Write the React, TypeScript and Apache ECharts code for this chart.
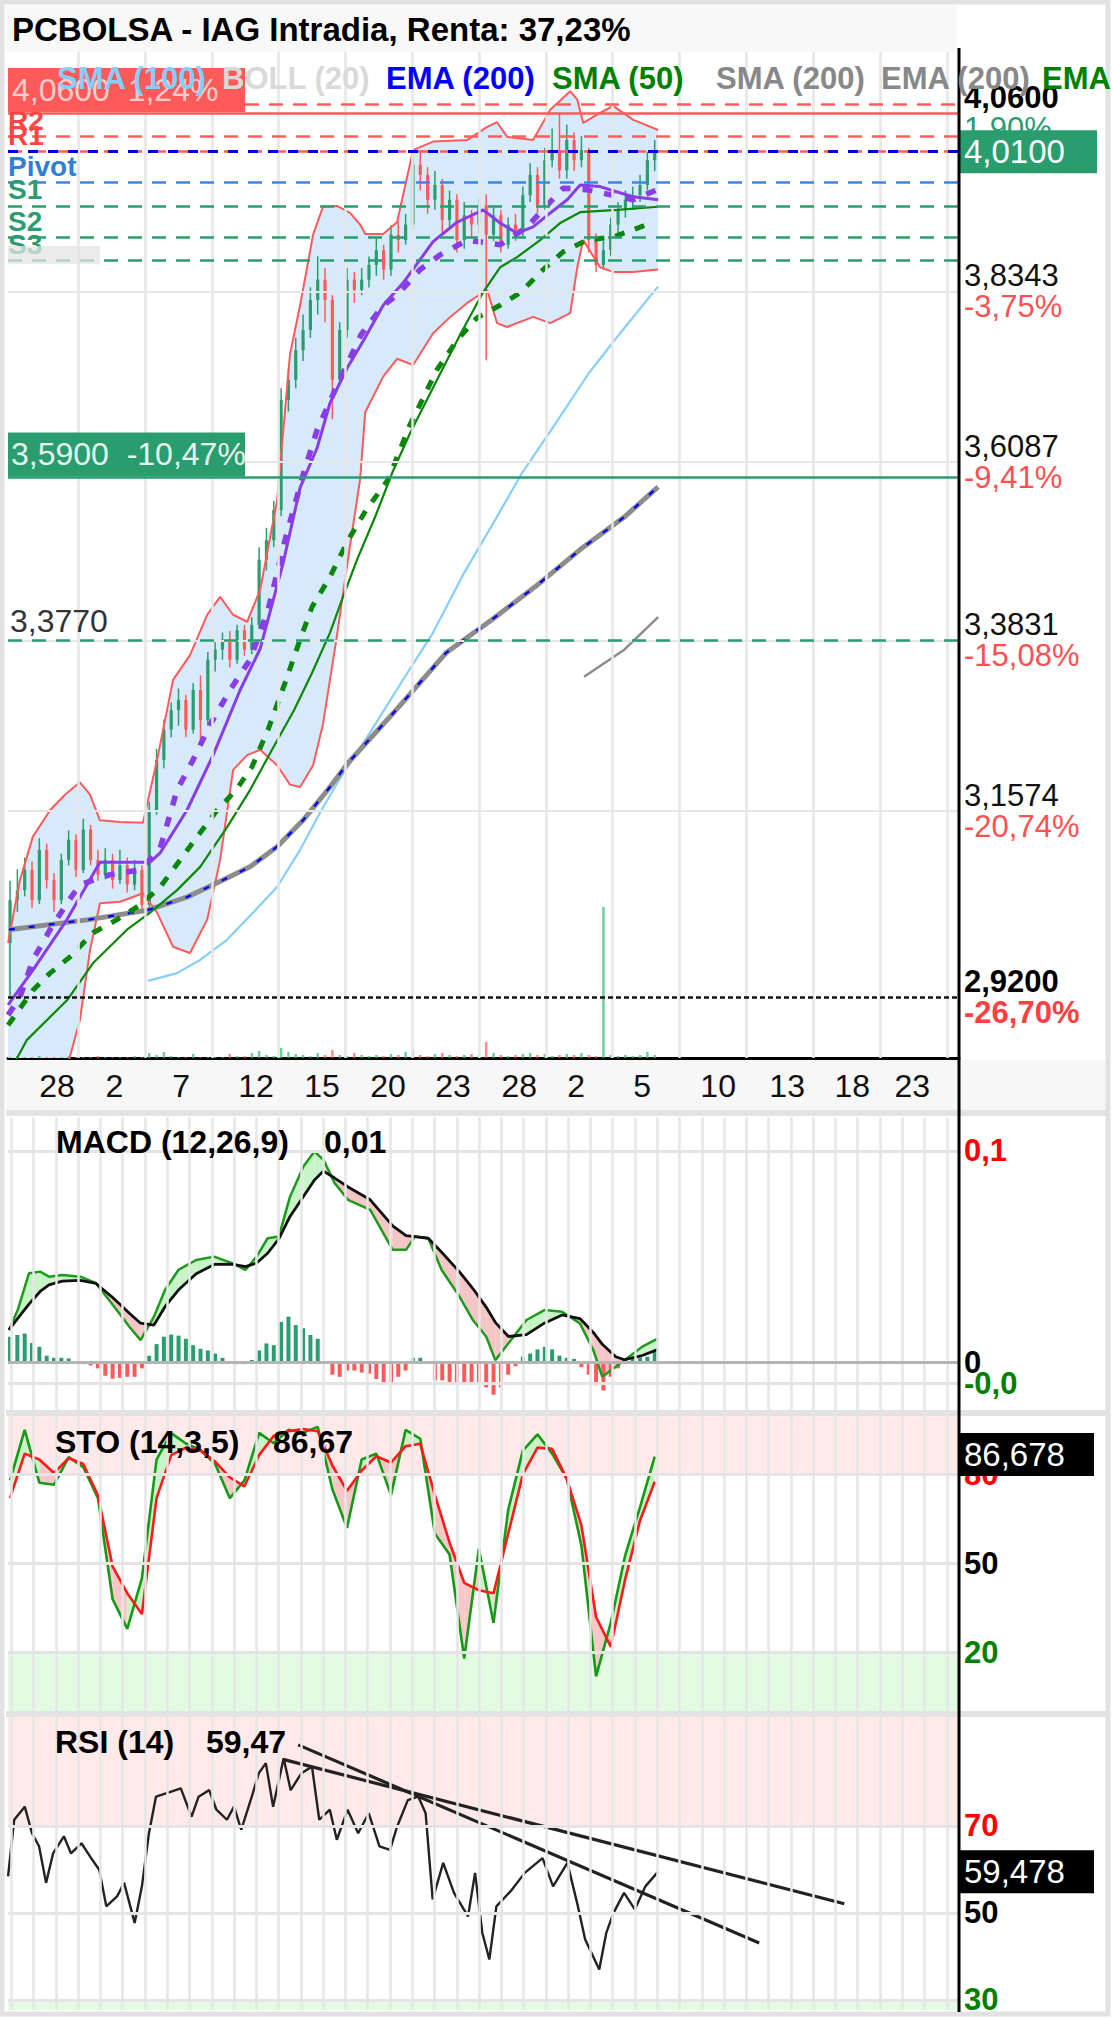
import React, { useEffect, useRef } from 'react';
import * as echarts from 'echarts';

const FONT = "'Liberation Sans', Arial, Helvetica, sans-serif";
const GREEN = '#2a9d6f';
const RED = '#ff5a5a';

// ---------- axes ----------
const X_MIN = -0.273;
const X_MAX = 43.0;
const BAR_X0 = -0.18;
const BAR_STEP = 1 / 3;
const OSC_X0 = -0.18;
const OSC_STEP = 2 / 3;
const GRID_X0 = -0.127;
const GRID_DX = 1.0137;
const GRID_COUNT = 43;

const XLABEL_POS = [1.96, 4.57, 7.6, 11.01, 14.02, 17.02, 19.98, 22.99, 25.58, 28.58, 32.04, 35.18, 38.14, 40.87];
const XLABEL_TXT = ['28', '2', '7', '12', '15', '20', '23', '28', '2', '5', '10', '13', '18', '23'];

// ---------- price ----------
const CANDLES = [
  [2.990, 3.045, 2.920, 3.070], [3.045, 3.058, 3.030, 3.085], [3.058, 3.084, 3.050, 3.100], [3.084, 3.045, 3.035, 3.095],
  [3.045, 3.110, 3.040, 3.125], [3.110, 3.071, 3.060, 3.118], [3.071, 3.045, 3.030, 3.080], [3.045, 3.097, 3.040, 3.105],
  [3.097, 3.123, 3.090, 3.135], [3.123, 3.084, 3.075, 3.130], [3.084, 3.136, 3.080, 3.150], [3.136, 3.097, 3.090, 3.142],
  [3.097, 3.078, 3.070, 3.110], [3.078, 3.097, 3.072, 3.112], [3.097, 3.071, 3.060, 3.105], [3.071, 3.090, 3.066, 3.110],
  [3.090, 3.065, 3.055, 3.100], [3.065, 3.084, 3.058, 3.097], [3.084, 3.039, 3.034, 3.090], [3.039, 3.161, 3.036, 3.172],
  [3.161, 3.226, 3.155, 3.240], [3.226, 3.265, 3.215, 3.278], [3.265, 3.290, 3.255, 3.300], [3.290, 3.303, 3.270, 3.318],
  [3.303, 3.265, 3.255, 3.310], [3.265, 3.316, 3.260, 3.325], [3.316, 3.277, 3.250, 3.335], [3.277, 3.355, 3.270, 3.365],
  [3.355, 3.368, 3.340, 3.380], [3.368, 3.381, 3.355, 3.390], [3.381, 3.355, 3.345, 3.392], [3.355, 3.393, 3.350, 3.400],
  [3.393, 3.368, 3.360, 3.400], [3.368, 3.400, 3.362, 3.410], [3.400, 3.484, 3.395, 3.500], [3.484, 3.509, 3.470, 3.525],
  [3.509, 3.548, 3.500, 3.560], [3.548, 3.690, 3.540, 3.705], [3.690, 3.716, 3.675, 3.730], [3.716, 3.754, 3.705, 3.770],
  [3.754, 3.780, 3.740, 3.800], [3.780, 3.819, 3.770, 3.835], [3.819, 3.845, 3.800, 3.875], [3.845, 3.819, 3.790, 3.860],
  [3.819, 3.716, 3.665, 3.825], [3.716, 3.780, 3.710, 3.790], [3.780, 3.845, 3.770, 3.860], [3.845, 3.832, 3.815, 3.855],
  [3.832, 3.845, 3.825, 3.860], [3.845, 3.864, 3.835, 3.875], [3.864, 3.883, 3.850, 3.900], [3.883, 3.858, 3.845, 3.890],
  [3.858, 3.903, 3.850, 3.915], [3.903, 3.896, 3.880, 3.920], [3.896, 3.916, 3.890, 3.930], [3.916, 3.993, 3.910, 4.010],
  [3.993, 3.980, 3.960, 4.012], [3.980, 3.948, 3.930, 3.990], [3.948, 3.967, 3.935, 3.985], [3.967, 3.922, 3.905, 3.975],
  [3.922, 3.948, 3.910, 3.960], [3.948, 3.896, 3.880, 3.955], [3.896, 3.928, 3.885, 3.945], [3.928, 3.916, 3.900, 3.935],
  [3.916, 3.941, 3.905, 3.950], [3.941, 3.903, 3.741, 3.955], [3.903, 3.928, 3.895, 3.940], [3.928, 3.890, 3.880, 3.935],
  [3.890, 3.916, 3.885, 3.925], [3.916, 3.909, 3.895, 3.930], [3.909, 3.954, 3.900, 3.965], [3.954, 3.980, 3.945, 3.995],
  [3.980, 3.941, 3.930, 3.990], [3.941, 3.999, 3.935, 4.015], [3.999, 4.012, 3.990, 4.040], [4.012, 3.986, 3.975, 4.060],
  [3.986, 4.025, 3.975, 4.045], [4.025, 3.999, 3.985, 4.035], [3.999, 4.012, 3.990, 4.030], [4.012, 3.896, 3.880, 4.015],
  [3.896, 3.864, 3.855, 3.905], [3.864, 3.883, 3.858, 3.895], [3.883, 3.916, 3.875, 3.925], [3.916, 3.935, 3.905, 3.945],
  [3.935, 3.948, 3.925, 3.960], [3.948, 3.954, 3.935, 3.965], [3.954, 3.967, 3.945, 3.980], [3.967, 3.999, 3.960, 4.010],
  [3.999, 4.010, 3.985, 4.025],
];

const VOLUME = [
  0.1, 0.2, 0.1, 0.1, 0.2, 0.1, 0.1, 0.1, 0.2, 0.1, 0.1, 0.1, 0.2, 0.1, 0.1, 0.1, 0.1, 0.2, 0.1,
  0.5, 0.3, 0.6, 0.2, 0.1, 0.1, 0.4, 0.1, 0.1, 0.1,
  0.1, 0.4, 0.2, 0.2, 0.5, 0.7, 0.3, 0.2, 1.0, 0.6,
  0.4, 0.3, 0.2, 0.5, 0.3, 0.8, 0.3, 0.2, 0.5, 0.3,
  0.2, 0.3, 0.2, 0.4, 0.3, 0.6, 0.8, 0.3, 0.2, 0.4,
  0.5, 0.3, 0.2, 0.3, 0.4, 0.3, 1.6, 0.5, 0.3, 0.2,
  0.3, 0.4, 0.5, 0.3, 0.4, 0.2, 0.3, 0.4, 0.3, 0.5,
  0.3, 0.2, 15, 0.3, 0.2, 0.3, 0.2, 0.3, 0.6, 0.3,
];

const BOLL_X = [-0.27, 0.27, 0.86, 1.64, 2.32, 3.0, 3.46, 3.91, 4.83, 5.87, 6.51, 7.24, 8.01, 8.79, 9.38, 9.97, 10.61, 11.2, 11.97, 12.56, 13.02, 13.61, 14.06, 14.7, 15.29, 15.75, 15.98, 16.8, 17.43, 18.16, 19.07, 19.85, 20.62, 21.53, 21.98, 22.44, 23.62, 24.4, 25.31, 25.63, 25.9, 26.67, 27.26, 28.18, 29.31];
const BOLL_UP = [2.99, 3.071, 3.127, 3.161, 3.181, 3.197, 3.181, 3.148, 3.146, 3.145, 3.226, 3.329, 3.361, 3.413, 3.436, 3.413, 3.404, 3.445, 3.56, 3.749, 3.812, 3.903, 3.939, 3.94, 3.931, 3.916, 3.904, 3.904, 3.919, 4.012, 4.023, 4.024, 4.025, 4.042, 4.048, 4.029, 4.025, 4.064, 4.088, 4.077, 4.047, 4.06, 4.069, 4.051, 4.038];
const BOLL_LOW = [2.762, 2.775, 2.788, 2.8, 2.82, 2.891, 2.981, 3.041, 3.043, 3.054, 3.029, 2.985, 2.977, 3.02, 3.097, 3.213, 3.232, 3.239, 3.219, 3.194, 3.191, 3.219, 3.272, 3.387, 3.502, 3.588, 3.674, 3.72, 3.743, 3.735, 3.776, 3.797, 3.815, 3.832, 3.789, 3.784, 3.797, 3.789, 3.802, 3.861, 3.896, 3.861, 3.855, 3.855, 3.858];

const PURPLE_SOLID = [[-0.27, 2.91], [0.86, 2.955], [2.41, 3.02], [3.91, 3.094], [6.19, 3.094], [6.65, 3.106], [7.87, 3.161], [9.06, 3.232], [10.29, 3.316], [11.2, 3.369], [12.24, 3.479], [13.02, 3.577], [13.79, 3.628], [14.38, 3.686], [15.16, 3.731], [15.89, 3.766], [16.8, 3.812], [17.71, 3.841], [19.07, 3.894], [20.16, 3.919], [21.35, 3.935], [22.12, 3.918], [22.89, 3.905], [23.62, 3.913], [24.4, 3.931], [25.17, 3.948], [25.76, 3.967], [26.67, 3.965], [27.45, 3.958], [28.17, 3.952], [29.31, 3.948]];
const PURPLE_DASH = [[-0.27, 2.897], [0.27, 2.92], [0.86, 2.968], [1.64, 3.007], [2.41, 3.041], [3.0, 3.065], [4.37, 3.078], [5.74, 3.084], [6.65, 3.112], [7.42, 3.187], [8.15, 3.226], [8.92, 3.271], [9.83, 3.316], [10.74, 3.355], [11.56, 3.419], [12.33, 3.509], [13.15, 3.593], [13.79, 3.651], [14.61, 3.703], [15.79, 3.774], [16.8, 3.812], [17.43, 3.825], [18.48, 3.858], [19.39, 3.877], [20.62, 3.896], [22.12, 3.89], [23.35, 3.913], [24.26, 3.941], [24.99, 3.963], [26.08, 3.961], [28.17, 3.948], [29.27, 3.961]];
const GREEN_SOLID = [[-0.27, 2.82], [0.59, 2.865], [2.41, 2.916], [3.6, 2.964], [5.14, 3.007], [6.19, 3.029], [7.42, 3.058], [8.47, 3.088], [9.69, 3.139], [10.74, 3.187], [11.74, 3.239], [12.74, 3.29], [13.56, 3.338], [14.38, 3.39], [14.97, 3.436], [15.61, 3.484], [16.43, 3.539], [17.21, 3.596], [18.02, 3.647], [19.25, 3.716], [20.3, 3.774], [21.35, 3.829], [22.12, 3.861], [22.89, 3.874], [23.94, 3.896], [24.85, 3.918], [25.76, 3.932], [27.45, 3.935], [29.31, 3.939]];
const GREEN_DASH = [[-0.27, 2.884], [0.86, 2.929], [1.64, 2.951], [2.55, 2.972], [3.6, 3.003], [4.69, 3.02], [5.74, 3.039], [6.65, 3.062], [7.56, 3.097], [8.47, 3.132], [9.24, 3.161], [10.1, 3.187], [10.83, 3.217], [11.56, 3.265], [12.33, 3.325], [12.97, 3.377], [13.56, 3.423], [14.38, 3.462], [15.2, 3.509], [16.02, 3.548], [17.02, 3.587], [18.02, 3.658], [19.25, 3.729], [20.16, 3.767], [21.07, 3.796], [22.12, 3.812], [23.03, 3.828], [24.08, 3.858], [24.99, 3.881], [26.08, 3.896], [27.26, 3.9], [28.81, 3.916]];
const SMA100 = [[6.1, 2.941], [7.42, 2.951], [8.47, 2.968], [9.69, 2.994], [10.88, 3.029], [11.97, 3.062], [13.02, 3.11], [13.93, 3.158], [14.79, 3.2], [16.2, 3.261], [17.61, 3.325], [19.07, 3.39], [20.48, 3.467], [21.89, 3.535], [23.12, 3.596], [24.53, 3.655], [26.17, 3.725], [27.58, 3.776], [28.81, 3.819], [29.31, 3.836]];
const MA200 = [[-0.23, 3.007], [3.41, 3.02], [6.05, 3.032], [7.87, 3.049], [9.51, 3.071], [10.74, 3.088], [11.97, 3.114], [13.15, 3.148], [14.38, 3.191], [15.2, 3.222], [17.25, 3.286], [19.66, 3.364], [21.71, 3.406], [23.71, 3.449], [25.76, 3.497], [27.77, 3.539], [29.31, 3.578]];
const GRAY_SHORT = [[25.94, 3.333], [27.77, 3.368], [29.31, 3.41]];

// price levels
const PRICE_GRID = [3.1574, 3.3831, 3.6087, 3.8343];
const PRICE_GRID_TXT = ['3,1574', '3,3831', '3,6087', '3,8343'];
const PRICE_GRID_PCT = ['-20,74%', '-15,08%', '-9,41%', '-3,75%'];
const HIGH_LEVEL = 4.06;
const HIGH_TXT = ['4,0600', '1,90%', '4,0600  1,24%'];
const LOW_LEVEL = 2.92;
const LOW_TXT = ['2,9200', '-26,70%'];
const LAST_PRICE = 4.01;
const LAST_TXT = '4,0100';
const ALERT_LEVEL = 3.59;
const ALERT_TXT = '3,5900  -10,47%';
const SUPPORT_LEVEL = 3.377;
const SUPPORT_TXT = '3,3770';
const PIVOT_LEVELS = [4.0715, 4.0328, 4.008, 3.9671, 3.94, 3.9013, 3.8743];
const PIVOT_NAMES = ['', 'R2', 'R1', 'Pivot', 'S1', 'S2', 'S3'];
const R3_START_X = 10.51;

// ---------- MACD ----------
const MACD_X = [-0.23, 0.17, 0.68, 1.19, 1.59, 2.2, 3.02, 3.73, 4.44, 5.25, 5.76, 6.37, 6.87, 7.48, 8.29, 9.11, 9.92, 10.53, 11.04, 11.54, 12.05, 12.56, 13.17, 13.67, 14.08, 14.59, 15.2, 16.21, 17.23, 17.84, 18.24, 18.85, 19.46, 20.27, 20.88, 21.49, 21.9, 22.5, 23.32, 24.13, 24.94, 25.75, 26.36, 26.77, 27.38, 27.78, 28.59, 29.31];
const MACD_LINE = [0.0152, 0.0246, 0.042, 0.0428, 0.0404, 0.0412, 0.0404, 0.0373, 0.0278, 0.0167, 0.0104, 0.0215, 0.0341, 0.0436, 0.0483, 0.0499, 0.0468, 0.0436, 0.0499, 0.0586, 0.0594, 0.0783, 0.0926, 0.0997, 0.0957, 0.0847, 0.0768, 0.072, 0.0531, 0.0531, 0.0594, 0.0586, 0.0436, 0.031, 0.0199, 0.012, 0.0009, 0.0089, 0.0199, 0.0246, 0.0238, 0.0183, 0.0057, -0.007, -0.0022, 0.0009, 0.0073, 0.0112];
const MACD_SIGNAL = [0.0152, 0.0207, 0.0274, 0.0334, 0.0365, 0.0383, 0.0387, 0.0372, 0.031, 0.0231, 0.0184, 0.0175, 0.0262, 0.0341, 0.0418, 0.0462, 0.0464, 0.0452, 0.0469, 0.0515, 0.0583, 0.0689, 0.0784, 0.0862, 0.0904, 0.0871, 0.0829, 0.0768, 0.0645, 0.0598, 0.0594, 0.0586, 0.052, 0.0427, 0.0348, 0.0259, 0.0188, 0.0121, 0.013, 0.0184, 0.0223, 0.0206, 0.014, 0.0084, 0.0025, 0.0011, 0.0031, 0.006];
const MACD_HIST = [
  0.012, 0.0128, 0.0135, 0.009, 0.0072, 0.003, 0.002, 0.002, 0.0017, 0,
  -0.001, -0.0016, -0.003, -0.0065, -0.0079, -0.0075, -0.007, -0.007, -0.003, 0.003,
  0.0085, 0.012, 0.013, 0.0125, 0.011, 0.008, 0.0063, 0.0055, 0.004, 0.002,
  0, -0.001, -0.001, 0.001, 0.0055, 0.0088, 0.008, 0.019, 0.0215, 0.0175,
  0.016, 0.0128, 0.011, 0, -0.006, -0.007, -0.004, -0.004, -0.005, -0.0055,
  -0.008, -0.0095, -0.0103, -0.007, -0.004, 0.002, 0.002, 0, -0.0087, -0.0087,
  -0.0103, -0.01, -0.0095, -0.01, -0.0103, -0.012, -0.0155, -0.012, -0.006, -0.002,
  0.0025, 0.004, 0.006, 0.0072, 0.006, 0.003, 0.002, 0.0015, -0.0024, -0.006,
  -0.011, -0.0135, -0.007, -0.003, 0.0017, 0.002, 0.0022, 0.0025, 0.005,
];
const MACD_MIN = -0.0227, MACD_MAX = 0.116;
const MACD_LEVELS = [0.1, 0, -0.0075];
const MACD_LEVEL_TXT = ['0,1', '0', '-0,0'];

// ---------- STO / RSI ----------
const STO_K = [78, 95, 77.2, 76.5, 85.8, 82.4, 72, 38, 28, 45, 85, 93.9, 90.4, 88.2, 83.5, 72, 78, 94, 90.5, 95, 94, 96, 75, 62, 85, 87, 73, 95, 92, 60, 53, 18, 55, 30, 68, 88, 93.5, 87, 78.5, 56, 12, 30, 53, 69, 86];
const STO_D = [72, 87, 85, 80.5, 85.5, 83.5, 73, 49, 40, 33, 72, 86.5, 89, 88, 84.3, 79, 76, 86.5, 93, 94.5, 95.3, 94.5, 83, 74.5, 81.3, 86.1, 84, 89.5, 90.3, 73, 57, 43.5, 41, 40, 60, 80, 89, 88.6, 78.5, 62.8, 32, 22, 45, 64.5, 77.5];
const STO_LAST = 86.678;
const STO_LAST_TXT = '86,678';
const RSI_PTS = [
  [-0.27, 58.4], [0.01, 71.4], [0.49, 74.4], [0.82, 68.3], [1.14, 65.3], [1.46, 56.9], [1.78, 63.7], [2.27, 67.6],
  [2.59, 63.7], [3.07, 66], [3.56, 62.2], [3.88, 59.9], [4.2, 51.5], [4.69, 53.8], [5.01, 56.9], [5.49, 47.7],
  [5.82, 56.1], [6.14, 68.3], [6.46, 76.7], [6.95, 77.5], [7.59, 78.6], [8.08, 72.1], [8.4, 76.7], [8.88, 78.2],
  [9.21, 73.7], [9.69, 71.4], [10.01, 74.4], [10.34, 69.1], [10.82, 76.7], [11.14, 82.1], [11.46, 84.4], [11.79, 74.4],
  [12.27, 85.5], [12.59, 78.2], [13.08, 82.1], [13.56, 83.6], [13.89, 71.4], [14.37, 73.7], [14.69, 66.8], [15.18, 73.7],
  [15.66, 68.3], [16.14, 72.9], [16.63, 65.3], [17.11, 64.5], [17.43, 69.8], [17.92, 75.9], [18.4, 76.7], [18.73, 72.9],
  [19.05, 53.1], [19.53, 61.5], [20.02, 54.6], [20.66, 49.2], [20.98, 59.2], [21.31, 45.4], [21.63, 39.3], [21.95, 51.5],
  [22.6, 55], [23.24, 59.2], [24.05, 62.6], [24.53, 56.1], [25.18, 61.5], [25.66, 51.5], [25.99, 43.9], [26.63, 37],
  [26.95, 45.4], [27.28, 50], [27.76, 54.6], [28.25, 50.8], [28.73, 56.1], [29.31, 59.48],
];
const RSI_LAST = 59.478;
const RSI_LAST_TXT = '59,478';
const RSI_MIN = 27.7, RSI_MAX = 95;
const RSI_TREND_A = [[12.93, 88.6], [33.91, 43.1]];
const RSI_TREND_B = [[12.29, 85.2], [37.78, 52.1]];

// ---------- layout ----------
const G_MAIN = { left: 8, top: 52, width: 951, height: 1006 };
const G_MACD = { left: 8, top: 1117, width: 951, height: 293 };
const G_STO = { left: 8, top: 1415, width: 951, height: 297 };
const G_RSI = { left: 8, top: 1717, width: 951, height: 293 };

const LEGEND = [
  { t: 'SMA (100)', c: '#87cefa', x: 57 },
  { t: 'BOLL (20)', c: '#d9d9d9', x: 222 },
  { t: 'EMA (200)', c: '#0000ff', x: 386 },
  { t: 'SMA (50)', c: '#008000', x: 552 },
  { t: 'SMA (200)', c: '#888888', x: 716 },
  { t: 'EMA (200)', c: '#888888', x: 881 },
  { t: 'EMA (50)', c: '#008000', x: 1042 },
];

const PANEL_TITLES = [
  { t: 'MACD (12,26,9)', v: '0,01', x: 56, vx: 324, y: 1142 },
  { t: 'STO (14,3,5)', v: '86,67', x: 55, vx: 273, y: 1442 },
  { t: 'RSI (14)', v: '59,47', x: 55, vx: 206, y: 1742 },
];

const PIVOT_COLORS = ['#ff5c5c', '#ff5c5c', '#ff5c5c', '#3b88e0', GREEN, GREEN, GREEN];
const PIVOT_TEXT_COLORS = ['#ff4444', '#ff4444', '#ff4444', '#2f7fd8', GREEN, GREEN, GREEN];
const HIDDEN_LINE = { color: 'rgba(0,0,0,0)', width: 1, type: 'solid' };

const RICH = {
  p: { fontSize: 31, color: '#111', fontFamily: FONT, lineHeight: 31 },
  r: { fontSize: 31, color: '#ff5050', fontFamily: FONT, lineHeight: 31 },
  pb: { fontSize: 31, color: '#000', fontFamily: FONT, lineHeight: 31, fontWeight: 'bold' },
  rb: { fontSize: 31, color: '#ff4040', fontFamily: FONT, lineHeight: 31, fontWeight: 'bold' },
  g: { fontSize: 31, color: GREEN, fontFamily: FONT, lineHeight: 31 },
};

function gridXs(step: number) {
  const out: number[] = [];
  for (let n = 0; n < GRID_COUNT; n += step) {
    if (step > 1 && n === 0) continue;
    out.push(GRID_X0 + n * GRID_DX);
  }
  return out;
}

function guide(xi: number, yi: number, lines: any[], areas?: any[]) {
  const s: any = {
    type: 'line', xAxisIndex: xi, yAxisIndex: yi, data: [], silent: true, symbol: 'none',
    markLine: { symbol: ['none', 'none'], silent: true, animation: false, label: { show: false }, data: lines },
  };
  if (areas) s.markArea = { silent: true, animation: false, data: areas };
  return s;
}

function vLines(xs: number[]) {
  return xs.map((x) => ({ xAxis: x, lineStyle: { color: '#e6e6e6', width: 2.5, type: 'solid' } }));
}

function fillSeries(xs: number[], a: number[], b: number[], xi: number, yi: number, up: string, down: string) {
  const data: number[][] = [];
  for (let i = 0; i < xs.length - 1; i++) data.push([xs[i], a[i], b[i], xs[i + 1], a[i + 1], b[i + 1]]);
  return {
    type: 'custom', xAxisIndex: xi, yAxisIndex: yi, clip: true, silent: true,
    encode: { x: [0, 3], y: [1, 2, 4, 5] },
    data,
    renderItem: (params: any, api: any) => {
      const p1 = api.coord([api.value(0), api.value(1)]);
      const p2 = api.coord([api.value(3), api.value(4)]);
      const p3 = api.coord([api.value(3), api.value(5)]);
      const p4 = api.coord([api.value(0), api.value(2)]);
      const isUp = api.value(1) + api.value(4) >= api.value(2) + api.value(5);
      return { type: 'polygon', shape: { points: [p1, p2, p3, p4] }, style: { fill: isUp ? up : down } };
    },
  };
}

function line(data: any[], xi: number, yi: number, color: string, width: number, type: any = 'solid') {
  return {
    type: 'line', xAxisIndex: xi, yAxisIndex: yi, data, showSymbol: false, symbol: 'none', silent: true,
    lineStyle: { color, width, type }, z: 3,
  };
}

function sideLabel(text: string, color: string, bold = true) {
  return { show: true, position: 'end', distance: 5, formatter: text, color, fontSize: 31, fontWeight: bold ? 'bold' : 'normal', fontFamily: FONT };
}

function boxLabel(text: string, bg: string, width: number) {
  return {
    show: true, position: 'end', distance: 0, formatter: text, color: '#fff', backgroundColor: bg,
    fontSize: 33, fontFamily: FONT, lineHeight: 37, padding: [3, 4, 3, 5], width,
  };
}

function buildOption() {
  const barXs = CANDLES.map((_, i) => BAR_X0 + i * BAR_STEP);
  const oscXs = STO_K.map((_, j) => OSC_X0 + j * OSC_STEP);
  const axisBase = { type: 'value', min: X_MIN, max: X_MAX };

  const xAxis: any[] = [
    {
      ...axisBase, gridIndex: 0, show: true, position: 'bottom',
      axisLine: { show: true, onZero: false, lineStyle: { color: '#000', width: 3 } },
      axisTick: { show: false }, splitLine: { show: false },
      axisLabel: {
        show: true, customValues: XLABEL_POS, margin: 12, fontSize: 32, color: '#111', fontFamily: FONT,
        formatter: (v: number) => {
          const i = XLABEL_POS.findIndex((p) => Math.abs(p - v) < 1e-6);
          return i >= 0 ? XLABEL_TXT[i] : '';
        },
      },
    },
    { ...axisBase, gridIndex: 1, show: false },
    { ...axisBase, gridIndex: 2, show: false },
    { ...axisBase, gridIndex: 3, show: false },
  ];
  const yAxis: any[] = [
    { type: 'value', gridIndex: 0, min: 2.8416, max: 4.1385, show: false, position: 'right' },
    { type: 'value', gridIndex: 0, min: 0, max: 100, show: false },
    { type: 'value', gridIndex: 1, min: MACD_MIN, max: MACD_MAX, show: false },
    { type: 'value', gridIndex: 2, min: 0, max: 100, show: false },
    { type: 'value', gridIndex: 3, min: RSI_MIN, max: RSI_MAX, show: false },
  ];

  // ---- main levels ----
  const mainGridLines = [
    ...vLines(gridXs(3)),
    ...PRICE_GRID.map((v, i) => ({
      yAxis: v, lineStyle: { color: '#e6e6e6', width: 2, type: 'solid' },
      label: { show: true, position: 'end', distance: 5, formatter: `{p|${PRICE_GRID_TXT[i]}}\n{r|${PRICE_GRID_PCT[i]}}`, rich: RICH },
    })),
  ];

  const pivotLines: any[] = PIVOT_LEVELS.map((v, i) => {
    const item: any = {
      yAxis: v, lineStyle: { color: PIVOT_COLORS[i], width: 2.5, type: [14, 10] },
      label: PIVOT_NAMES[i]
        ? { show: true, position: 'insideStartTop', distance: [0, 2], formatter: PIVOT_NAMES[i], color: PIVOT_TEXT_COLORS[i], fontSize: 28, fontWeight: 'bold', fontFamily: FONT }
        : { show: false },
    };
    if (i === 0) return [{ xAxis: R3_START_X, yAxis: v, lineStyle: item.lineStyle, label: { show: false } }, { xAxis: X_MAX, yAxis: v }];
    return item;
  });

  const levelLines: any[] = [
    {
      yAxis: LOW_LEVEL, lineStyle: { color: '#111', width: 2.5, type: [5, 3] },
      label: { show: true, position: 'end', distance: 5, formatter: `{pb|${LOW_TXT[0]}}\n{rb|${LOW_TXT[1]}}`, rich: RICH },
    },
    {
      yAxis: SUPPORT_LEVEL, lineStyle: { color: GREEN, width: 2.5, type: [14, 10] },
      label: { show: true, position: 'insideStartTop', distance: [2, 3], formatter: SUPPORT_TXT, color: '#333', fontSize: 32, fontFamily: FONT },
    },
    {
      yAxis: ALERT_LEVEL, lineStyle: { color: GREEN, width: 2.5, type: 'solid' },
      label: {
        show: true, position: 'insideStartTop', distance: [0, 1], formatter: ALERT_TXT, color: '#e6f5ee', backgroundColor: GREEN,
        fontSize: 32, lineHeight: 38, padding: [3, 2, 3, 3], width: 232, fontFamily: FONT,
      },
    },
    ...pivotLines,
    {
      yAxis: HIGH_LEVEL, lineStyle: { color: RED, width: 2.5, type: 'solid' },
      label: { show: true, position: 'end', distance: 5, formatter: `{pb|${HIGH_TXT[0]}}\n{g|${HIGH_TXT[1]}}`, rich: RICH },
    },
    {
      yAxis: HIGH_LEVEL, lineStyle: HIDDEN_LINE,
      label: {
        show: true, position: 'insideStartTop', distance: [0, 1], formatter: HIGH_TXT[2], color: 'rgba(255,235,235,0.8)', backgroundColor: RED,
        fontSize: 32, lineHeight: 38, padding: [3, 2, 3, 4], width: 231, fontFamily: FONT,
      },
    },
    {
      yAxis: LAST_PRICE, lineStyle: { color: '#0000dd', width: 3, type: [10, 10] },
      label: boxLabel(LAST_TXT, GREEN, 129),
    },
  ];

  const series: any[] = [
    guide(0, 0, mainGridLines),
    {
      type: 'custom', xAxisIndex: 0, yAxisIndex: 0, clip: true, silent: true,
      data: [[BOLL_X[0], BOLL_UP[0]]], encode: { x: 0, y: 1 },
      renderItem: (params: any, api: any) => {
        const pts: number[][] = [];
        for (let i = 0; i < BOLL_X.length; i++) pts.push(api.coord([BOLL_X[i], BOLL_UP[i]]));
        for (let i = BOLL_X.length - 1; i >= 0; i--) pts.push(api.coord([BOLL_X[i], BOLL_LOW[i]]));
        return { type: 'polygon', shape: { points: pts }, style: { fill: '#d6eafb' } };
      },
    },
    guide(0, 0, levelLines),
    {
      type: 'bar', xAxisIndex: 0, yAxisIndex: 1, barWidth: 2.5, silent: true,
      data: VOLUME.map((v, i) => ({
        value: [barXs[i], v],
        itemStyle: { color: CANDLES[i][1] >= CANDLES[i][0] ? 'rgba(60,190,120,0.75)' : 'rgba(255,90,90,0.7)' },
      })),
    },
    line(BOLL_X.map((x, i) => [x, BOLL_UP[i]]), 0, 0, '#ff5a5a', 2),
    line(BOLL_X.map((x, i) => [x, BOLL_LOW[i]]), 0, 0, '#ff5a5a', 2),
    {
      type: 'custom', xAxisIndex: 0, yAxisIndex: 0, clip: true, silent: true, z: 3,
      encode: { x: 0, y: [1, 2, 3, 4] },
      data: CANDLES.map((c, i) => [barXs[i], c[0], c[1], c[2], c[3]]),
      renderItem: (params: any, api: any) => {
        const x = api.value(0), o = api.value(1), c = api.value(2), l = api.value(3), h = api.value(4);
        const top = api.coord([x, Math.max(o, c)]);
        const bot = api.coord([x, Math.min(o, c)]);
        const hi = api.coord([x, h]);
        const lo = api.coord([x, l]);
        const col = c >= o ? GREEN : RED;
        return {
          type: 'group', children: [
            { type: 'line', shape: { x1: hi[0], y1: hi[1], x2: lo[0], y2: lo[1] }, style: { stroke: col, lineWidth: 1.5 } },
            { type: 'rect', shape: { x: top[0] - 1.6, y: top[1], width: 3.2, height: Math.max(1.5, bot[1] - top[1]) }, style: { fill: col } },
          ],
        };
      },
    },
    line(SMA100, 0, 0, '#87cefa', 2.2),
    line(MA200, 0, 0, '#8c8c8c', 5),
    line(MA200, 0, 0, '#0000ff', 2.2, [6, 14]),
    line(GRAY_SHORT, 0, 0, '#8c8c8c', 2.5),
    line(GREEN_SOLID, 0, 0, '#0a870a', 2.2),
    line(GREEN_DASH, 0, 0, '#0a870a', 5, [10, 11]),
    line(PURPLE_SOLID, 0, 0, '#8a3ce6', 3),
    line(PURPLE_DASH, 0, 0, '#8a3ce6', 5.5, [10, 12]),

    // ---- MACD ----
    guide(1, 2, [
      ...vLines(gridXs(1)),
      { yAxis: MACD_LEVELS[0], lineStyle: { color: '#e4e4e4', width: 3, type: 'solid' }, label: sideLabel(MACD_LEVEL_TXT[0], '#ff0000') },
      { yAxis: MACD_LEVELS[2], lineStyle: { color: '#e4e4e4', width: 3, type: 'solid' }, label: sideLabel(MACD_LEVEL_TXT[2], '#008000') },
      { yAxis: MACD_LEVELS[1], lineStyle: { color: '#b4b4b4', width: 3, type: 'solid' }, label: sideLabel(MACD_LEVEL_TXT[1], '#000') },
    ]),
    {
      type: 'bar', xAxisIndex: 1, yAxisIndex: 2, barWidth: 4, silent: true,
      data: MACD_HIST.map((v, i) => ({ value: [barXs[i], v], itemStyle: { color: v >= 0 ? GREEN : RED } })),
    },
    fillSeries(MACD_X, MACD_LINE, MACD_SIGNAL, 1, 2, '#c8f5c8', '#f4c6c6'),
    line(MACD_X.map((x, i) => [x, MACD_LINE[i]]), 1, 2, '#1f9a1f', 2.5),
    line(MACD_X.map((x, i) => [x, MACD_SIGNAL[i]]), 1, 2, '#111', 2.8),

    // ---- STO ----
    guide(2, 3, [], [
      [{ yAxis: 80, itemStyle: { color: '#ffe9e9' } }, { yAxis: 100 }],
      [{ yAxis: 0, itemStyle: { color: '#e2fbe2' } }, { yAxis: 20 }],
    ]),
    guide(2, 3, [
      ...vLines(gridXs(1)),
      { yAxis: 80, lineStyle: { color: '#e4e4e4', width: 3, type: 'solid' }, label: sideLabel('80', '#ff0000') },
      { yAxis: 50, lineStyle: { color: '#e4e4e4', width: 3, type: 'solid' }, label: sideLabel('50', '#000') },
      { yAxis: 20, lineStyle: { color: '#e4e4e4', width: 3, type: 'solid' }, label: sideLabel('20', '#008000') },
      { yAxis: STO_LAST, lineStyle: HIDDEN_LINE, label: boxLabel(STO_LAST_TXT, '#000', 126) },
    ]),
    fillSeries(oscXs, STO_K, STO_D, 2, 3, '#c8f5c8', '#f8c8c8'),
    line(oscXs.map((x, j) => [x, STO_K[j]]), 2, 3, '#149a14', 2.6),
    line(oscXs.map((x, j) => [x, STO_D[j]]), 2, 3, '#ff1a1a', 2.6),

    // ---- RSI ----
    guide(3, 4, [], [
      [{ yAxis: 70, itemStyle: { color: '#ffe9e9' } }, { yAxis: RSI_MAX }],
      [{ yAxis: RSI_MIN, itemStyle: { color: '#e2fbe2' } }, { yAxis: 30 }],
    ]),
    guide(3, 4, [
      ...vLines(gridXs(1)),
      { yAxis: 70, lineStyle: { color: '#e4e4e4', width: 3, type: 'solid' }, label: sideLabel('70', '#ff0000') },
      { yAxis: 50, lineStyle: { color: '#e4e4e4', width: 3, type: 'solid' }, label: sideLabel('50', '#000') },
      { yAxis: 30, lineStyle: { color: '#e4e4e4', width: 3, type: 'solid' }, label: sideLabel('30', '#008000') },
      { yAxis: RSI_LAST, lineStyle: HIDDEN_LINE, label: boxLabel(RSI_LAST_TXT, '#000', 126) },
    ]),
    line(RSI_PTS, 3, 4, '#222', 2.4),
    line(RSI_TREND_A, 3, 4, '#222', 3.2),
    line(RSI_TREND_B, 3, 4, '#222', 3.2),
  ];

  const graphic: any[] = [
    { type: 'rect', z: -10, shape: { x: 0, y: 0, width: 1112, height: 2018 }, style: { fill: '#fff' } },
    { type: 'rect', z: -9, shape: { x: 6, y: 6, width: 951, height: 46 }, style: { fill: '#f8f8f8' } },
    { type: 'rect', z: -9, shape: { x: 6, y: 1060, width: 1102, height: 50 }, style: { fill: '#f7f7f7' } },
    { type: 'rect', z: 60, shape: { x: 6, y: 1110, width: 1102, height: 6 }, style: { fill: '#e3e3e3' } },
    { type: 'rect', z: 60, shape: { x: 6, y: 1410, width: 1102, height: 6 }, style: { fill: '#e3e3e3' } },
    { type: 'rect', z: 60, shape: { x: 6, y: 1711, width: 1102, height: 6 }, style: { fill: '#e3e3e3' } },
    { type: 'rect', z: 60, shape: { x: 2, y: 2, width: 1106, height: 2012 }, style: { fill: 'none', stroke: '#e2e2e2', lineWidth: 5 } },
    { type: 'rect', z: 60, shape: { x: 8, y: 246, width: 92, height: 18 }, style: { fill: 'rgba(228,228,228,0.75)' } },
    { type: 'line', z: 70, shape: { x1: 959, y1: 48, x2: 959, y2: 2012 }, style: { stroke: '#000', lineWidth: 3 } },
    {
      type: 'text', z: 80, x: 12, y: 29,
      style: { text: 'PCBOLSA - IAG Intradia, Renta: 37,23%', fill: '#000', font: `bold 33px ${FONT}`, textVerticalAlign: 'middle', verticalAlign: 'middle' },
    },
    ...LEGEND.map((l) => ({
      type: 'text', z: 80, x: l.x, y: 78,
      style: { text: l.t, fill: l.c, font: `bold 31px ${FONT}`, verticalAlign: 'middle', textVerticalAlign: 'middle' },
    })),
    ...PANEL_TITLES.flatMap((p) => [
      { type: 'text', z: 80, x: p.x, y: p.y, style: { text: p.t, fill: '#000', font: `bold 32px ${FONT}`, verticalAlign: 'middle', textVerticalAlign: 'middle' } },
      { type: 'text', z: 80, x: p.vx, y: p.y, style: { text: p.v, fill: '#000', font: `bold 32px ${FONT}`, verticalAlign: 'middle', textVerticalAlign: 'middle' } },
    ]),
  ];

  return {
    animation: false,
    backgroundColor: '#fff',
    textStyle: { fontFamily: FONT },
    grid: [G_MAIN, G_MACD, G_STO, G_RSI],
    xAxis,
    yAxis,
    series,
    graphic,
  };
}

export default function App() {
  const ref = useRef<HTMLDivElement>(null);
  useEffect(() => {
    const chart = echarts.init(ref.current as HTMLDivElement, null, { renderer: 'svg' });
    chart.setOption(buildOption() as any);
    return () => chart.dispose();
  }, []);
  return <div ref={ref} style={{ position: 'absolute', left: 0, top: 0, width: 1112, height: 2018, background: '#fff' }} />;
}
